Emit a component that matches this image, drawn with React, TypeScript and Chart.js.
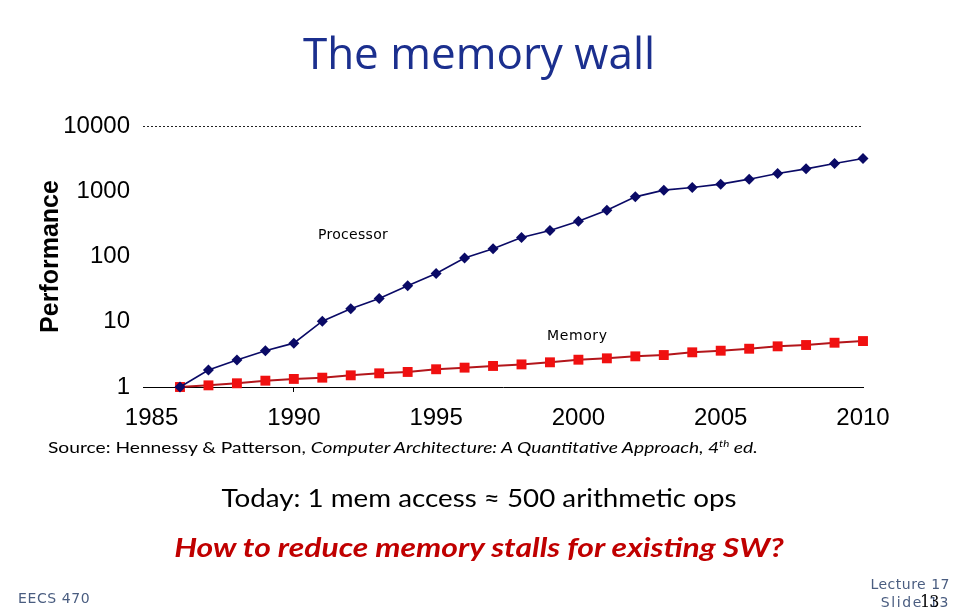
import React, { useEffect, useRef } from "react";
import { Chart, registerables } from "chart.js";

Chart.register(...registerables);

// Years with a measurement, and relative performance (1986 = 1)
const years = [
  1986, 1987, 1988, 1989, 1990, 1991, 1992, 1993, 1994, 1995, 1996, 1997, 1998,
  1999, 2000, 2001, 2002, 2003, 2004, 2005, 2006, 2007, 2008, 2009, 2010,
];
const processorPerf = [
  1, 1.82, 2.6, 3.6, 4.7, 10.2, 15.8, 22.8, 35.6, 55, 95, 131, 196, 251, 348,
  513, 820, 1040, 1143, 1285, 1532, 1872, 2203, 2663, 3178,
];
const memoryPerf = [
  1, 1.06, 1.14, 1.25, 1.33, 1.39, 1.51, 1.62, 1.7, 1.87, 1.98, 2.1, 2.22, 2.39,
  2.62, 2.75, 2.95, 3.09, 3.4, 3.6, 3.86, 4.2, 4.4, 4.77, 5.06,
];
const yearTicks = [1985, 1990, 1995, 2000, 2005, 2010];
const perfTicks = [1, 10, 100, 1000, 10000];

const AXIS_FONT = "'Liberation Sans', Arial, sans-serif";
const TEXT_FONT = "Lato, 'Open Sans', sans-serif";
const FOOT_FONT = "'DejaVu Sans', Verdana, sans-serif";

function PerfChart() {
  const ref = useRef<HTMLCanvasElement | null>(null);

  useEffect(() => {
    const canvas = ref.current;
    if (!canvas) return;
    const chart = new Chart(canvas, {
      type: "line",
      data: {
        datasets: [
          {
            label: "Processor",
            data: years.map((x, i) => ({ x, y: processorPerf[i] })),
            borderColor: "#0a0a66",
            backgroundColor: "#0a0a66",
            borderWidth: 1.6,
            pointStyle: "rectRot",
            pointRadius: 5.5,
            pointBorderWidth: 0,
            clip: false,
          },
          {
            label: "Memory",
            data: years.map((x, i) => ({ x, y: memoryPerf[i] })),
            borderColor: "#b3161b",
            backgroundColor: "#f01010",
            borderWidth: 2,
            pointStyle: "rect",
            pointRadius: 7,
            pointBorderWidth: 0,
            clip: false,
          },
        ],
      },
      options: {
        responsive: false,
        animation: false,
        devicePixelRatio: 1,
        layout: { padding: { top: 126, left: 0, right: 95, bottom: 185 } },
        plugins: {
          legend: { display: false },
          tooltip: { enabled: false },
        },
        scales: {
          x: {
            type: "linear",
            min: 1984.7,
            max: 2010,
            afterBuildTicks: (s: any) => {
              s.ticks = yearTicks.map((v) => ({ value: v }));
            },
            afterFit: (s: any) => {
              s.height = 40;
              s.paddingLeft = 0;
              s.paddingRight = 0;
            },
            grid: {
              drawOnChartArea: false,
              drawTicks: true,
              tickLength: 5,
              tickColor: (c: any) =>
                c.tick && c.tick.value === 1990 ? "#000" : "rgba(0,0,0,0)",
            },
            border: { display: true, color: "#000", width: 1 },
            ticks: {
              color: "#000",
              font: { family: AXIS_FONT, size: 24 },
              padding: 12,
              maxRotation: 0,
              autoSkip: false,
              callback: (v: any) => String(v),
            },
          },
          y: {
            type: "logarithmic",
            min: 1,
            max: 10000,
            afterBuildTicks: (s: any) => {
              s.ticks = perfTicks.map((v) => ({ value: v }));
            },
            afterFit: (s: any) => {
              s.width = 143;
              s.paddingTop = 0;
              s.paddingBottom = 0;
            },
            grid: {
              drawTicks: false,
              lineWidth: 1,
              color: (c: any) =>
                c.tick && c.tick.value === 10000 ? "#222" : "rgba(0,0,0,0)",
            },
            border: { display: false, dash: [2, 2] },
            ticks: {
              color: "#000",
              font: { family: AXIS_FONT, size: 24 },
              padding: 13,
              callback: (v: any) => String(v),
            },
            title: {
              display: true,
              text: "Performance",
              color: "#000",
              font: { family: AXIS_FONT, size: 25, weight: "bold" },
              padding: { top: 36, bottom: 0 },
            },
          },
        },
      },
    });
    return () => chart.destroy();
  }, []);

  return (
    <canvas
      ref={ref}
      width={958}
      height={612}
      style={{ position: "absolute", left: 0, top: 0, width: 958, height: 612 }}
    />
  );
}

function Line(props: {
  cy: number;
  size: number;
  children: React.ReactNode;
  style?: React.CSSProperties;
  left?: number;
  width?: number;
  align?: "left" | "center" | "right";
  sx?: number;
}) {
  const lh = Math.round(props.size * 1.2);
  const align = props.align ?? "center";
  return (
    <div
      style={{
        position: "absolute",
        left: props.left ?? 0,
        width: props.width ?? 958,
        top: props.cy - lh / 2,
        height: lh,
        lineHeight: lh + "px",
        fontSize: props.size,
        textAlign: align,
        whiteSpace: "nowrap",
        transform: props.sx ? `scaleX(${props.sx})` : undefined,
        transformOrigin: align === "left" ? "left center" : align === "right" ? "right center" : "center center",
        ...props.style,
      }}
    >
      {props.children}
    </div>
  );
}

export default function App() {
  return (
    <div
      style={{
        position: "fixed",
        left: 0,
        top: 0,
        width: 958,
        height: 612,
        background: "#fff",
        overflow: "hidden",
      }}
    >
      <PerfChart />

      <Line cy={52} size={44} style={{ fontFamily: "'Open Sans', sans-serif", color: "#1b2f8e" }}>
        The memory wall
      </Line>

      <Line cy={234} size={14} left={318} width={120} align="left"
        style={{ fontFamily: FOOT_FONT, color: "#000", letterSpacing: 0.3 }}>
        Processor
      </Line>
      <Line cy={335} size={14} left={547} width={120} align="left"
        style={{ fontFamily: FOOT_FONT, color: "#000", letterSpacing: 0.6 }}>
        Memory
      </Line>

      <Line cy={446} size={16} left={48} width={800} align="left" sx={1.2}
        style={{ fontFamily: TEXT_FONT, color: "#000" }}>
        Source: Hennessy &amp; Patterson,{" "}
        <i>
          Computer Architecture: A Quantitative Approach, 4
          <sup style={{ fontSize: "0.6em", lineHeight: 0 }}>th</sup> ed.
        </i>
      </Line>

      <Line cy={497} size={25} sx={1.11} style={{ fontFamily: TEXT_FONT, color: "#000" }}>
        Today: 1 mem access ≈ 500 arithmetic ops
      </Line>

      <Line cy={547} size={27} sx={1.18}
        style={{ fontFamily: TEXT_FONT, color: "#c00000", fontWeight: "bold", fontStyle: "italic" }}>
        How to reduce memory stalls for existing SW?
      </Line>

      <Line cy={598} size={14} left={18} width={200} align="left"
        style={{ fontFamily: FOOT_FONT, color: "#4a5d80", letterSpacing: 0.6 }}>
        EECS 470
      </Line>
      <Line cy={584} size={14} left={750} width={200} align="right"
        style={{ fontFamily: FOOT_FONT, color: "#4a5d80", letterSpacing: 0.5 }}>
        Lecture 17
      </Line>
      <Line cy={602} size={14} left={750} width={200} align="right"
        style={{ fontFamily: FOOT_FONT, color: "#4a5d80", letterSpacing: 1.6 }}>
        Slide{" "}
        <span style={{ position: "relative" }}>
          13
          <span
            style={{
              position: "absolute",
              left: -9,
              top: -1,
              color: "#000",
              fontFamily: "'DejaVu Serif', serif",
              fontSize: 16,
              letterSpacing: -1,
            }}
          >
            13
          </span>
        </span>
      </Line>
    </div>
  );
}
